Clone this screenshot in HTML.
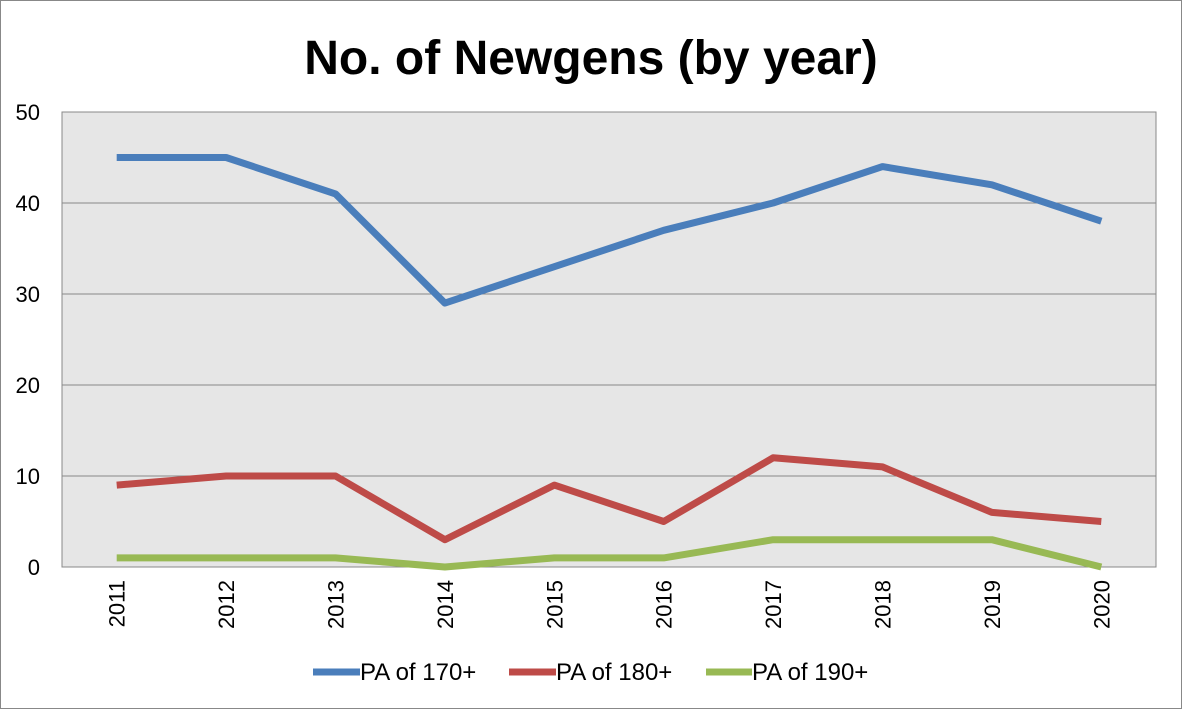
<!DOCTYPE html>
<html><head><meta charset="utf-8"><style>
body{margin:0;background:#fff;}
svg{display:block;font-family:"Liberation Sans",Arial,sans-serif;}
</style></head><body>
<svg id="chart" width="1182" height="709" viewBox="0 0 1182 709" xmlns="http://www.w3.org/2000/svg">
<rect x="0.5" y="0.5" width="1181" height="708" fill="#fff" stroke="#888" stroke-width="1"/>
<text x="591" y="74" text-anchor="middle" font-size="48" font-weight="bold" fill="#000">No. of Newgens (by year)</text>
<rect x="62" y="112" width="1094" height="455" fill="#e6e6e6" stroke="#888" stroke-width="1"/>
<g id="grid"></g><g id="yt"></g><g id="xt"></g><g id="series"></g>
<g>
<line x1="313" y1="672" x2="360" y2="672" stroke="#4a7ebb" stroke-width="7"/>
<text x="360" y="680" font-size="24">PA of 170+</text>
<line x1="509" y1="672" x2="556" y2="672" stroke="#be4b48" stroke-width="7"/>
<text x="556" y="680" font-size="24">PA of 180+</text>
<line x1="706" y1="672" x2="752" y2="672" stroke="#98b954" stroke-width="7"/>
<text x="752" y="680" font-size="24">PA of 190+</text>
</g>
</svg>
<script>
const categories=["2011","2012","2013","2014","2015","2016","2017","2018","2019","2020"];
const pa170=[45,45,41,29,33,37,40,44,42,38];
const pa180=[9,10,10,3,9,5,12,11,6,5];
const pa190=[1,1,1,0,1,1,3,3,3,0];
const yTicks=[0,10,20,30,40,50];
const NS="http://www.w3.org/2000/svg";
const X0=62,X1=1156,Y0=567,Y1=112,YMAX=50;
const xs=i=>X0+(X1-X0)/categories.length*(i+0.5);
const ys=v=>Y0-(Y0-Y1)*v/YMAX;
function mk(t,a,p){const e=document.createElementNS(NS,t);for(const k in a)e.setAttribute(k,a[k]);p.appendChild(e);return e;}
const grid=document.getElementById('grid'),yt=document.getElementById('yt'),xt=document.getElementById('xt'),ser=document.getElementById('series');
yTicks.forEach(v=>{
 if(v>0&&v<YMAX){const l=mk('line',{x1:X0,x2:X1,y1:ys(v),y2:ys(v),stroke:'#888','stroke-width':1},grid);
 
 }
 const t=mk('text',{x:40,y:ys(v)+8,'text-anchor':'end','font-size':22},yt);t.textContent=v;
 
 
});
categories.forEach((c,i)=>{
 const x=xs(i);
 const t=mk('text',{x:0,y:0,transform:`translate(${x+8},580) rotate(-90)`,'text-anchor':'end','font-size':22},xt);t.textContent=c;
 
 
});
[[pa170,'#4a7ebb','pa-170'],[pa180,'#be4b48','pa-180'],[pa190,'#98b954','pa-190']].forEach(([d,col,n])=>{
 const p=mk('polyline',{points:d.map((v,i)=>xs(i)+','+ys(v)).join(' '),fill:'none',stroke:col,'stroke-width':7,'stroke-linejoin':'round'},ser);
 
 
});
</script>
</body></html>
